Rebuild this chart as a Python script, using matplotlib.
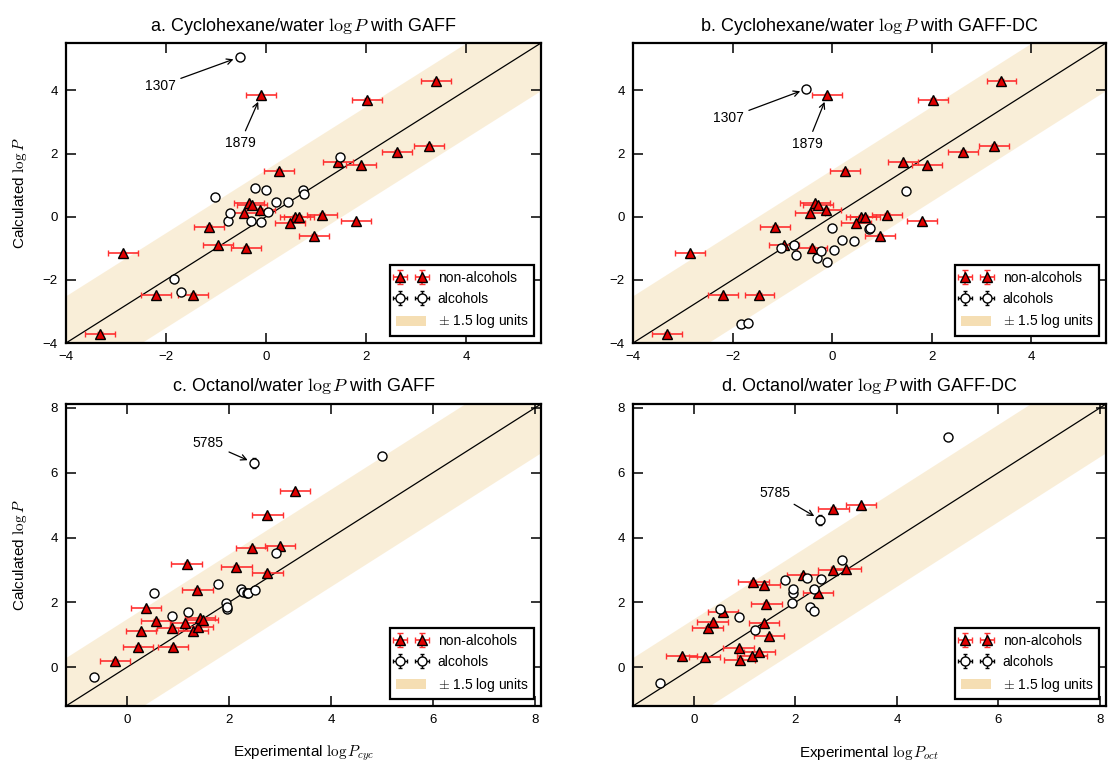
import matplotlib
matplotlib.use("Agg")
import matplotlib.pyplot as plt
import numpy as np
from matplotlib.patches import Rectangle

plt.rcParams['font.family'] = ['Liberation Sans', 'DejaVu Sans']
plt.rcParams['mathtext.fontset'] = 'cm'

# ---------------- Cyclohexane/water data ----------------
nonalc_x_cyc = [-0.10, 0.25, 3.40, 2.02, 2.62, 3.25, 1.90, 1.43, -0.34, -0.29, -0.45, -0.12,
                0.58, 0.66, 0.48, -1.15, -0.96, -0.40, -2.86, -2.20, -1.46, -3.32, 1.11, 1.80, 0.96]
nonalc_y_cyc = [3.84, 1.46, 4.31, 3.70, 2.06, 2.25, 1.63, 1.72, 0.42, 0.38, 0.12, 0.21,
                0.00, 0.00, -0.21, -0.32, -0.90, -0.99, -1.16, -2.49, -2.48, -3.70, 0.06, -0.15, -0.60]
alc_x_cyc = [-1.84, -1.70, -1.03, -0.76, -0.72, -0.52, -0.31, -0.23, -0.11, -0.01, 0.03, 0.20,
             0.43, 0.73, 0.75, 1.48]
alc_y_cyc_gaff = [-1.96, -2.37, 0.63, -0.15, 0.12, 5.06, -0.15, 0.91, -0.18, 0.86, 0.14, 0.46,
                  0.46, 0.86, 0.72, 1.88]
alc_y_cyc_dc = [-3.39, -3.36, -1.00, -0.90, -1.21, 4.05, -1.31, -1.10, -1.43, -0.36, -1.06, -0.74,
                -0.76, -0.39, -0.36, 0.80]

# ---------------- Octanol/water data ----------------
nonalc_x_oct = [-0.24, 0.21, 0.27, 0.37, 0.57, 0.88, 0.90, 1.14, 1.17, 1.29, 1.38, 1.39, 1.43,
                1.48, 2.14, 2.44, 2.75, 2.75, 3.00, 3.29]
nonalc_y_oct_gaff = [0.19, 0.62, 1.10, 1.82, 1.42, 1.22, 0.63, 1.35, 3.18, 1.10, 2.38, 1.25, 1.51,
                     1.46, 3.10, 3.68, 4.69, 2.91, 3.73, 5.42]
nonalc_y_oct_dc = [0.33, 0.30, 1.22, 1.38, 1.69, 0.58, 0.22, 0.33, 2.63, 0.46, 1.35, 2.53, 1.95,
                   0.97, 2.84, 2.28, 4.89, 2.99, 3.02, 4.99]
alc_x_oct = [-0.66, 0.52, 0.88, 1.20, 1.79, 1.94, 1.95, 1.96, 2.23, 2.28, 2.36, 2.37, 2.49, 2.51,
             2.92, 5.00]
alc_y_oct_gaff = [-0.29, 2.28, 1.59, 1.70, 2.58, 1.99, 1.79, 1.85, 2.41, 2.33, 2.28, 2.30, 6.30,
                  2.38, 3.53, 6.51]
alc_y_oct_dc = [-0.49, 1.79, 1.54, 1.15, 2.69, 1.97, 2.28, 2.41, 2.74, 1.85, 2.41, 1.74, 4.55,
                2.72, 3.30, 7.09]

# uncertainties
nonalc_xerr = 0.3
nonalc_yerr = 0.05
alc_xerr = 0.03
alc_yerr_oct = [0.05] * 12 + [0.15] + [0.05] * 3

band = 1.5

titles = ["a. Cyclohexane/water $\\log P$ with GAFF",
          "b. Cyclohexane/water $\\log P$ with GAFF-DC",
          "c. Octanol/water $\\log P$ with GAFF",
          "d. Octanol/water $\\log P$ with GAFF-DC"]

W, H = 1108, 761
fig = plt.figure(figsize=(W / 100, H / 100), dpi=100)

def ax_at(l, t, r, b):
    return fig.add_axes([l / W, 1 - b / H, (r - l) / W, (b - t) / H])

axes = [ax_at(66, 43, 541, 343), ax_at(633, 43, 1106, 343),
        ax_at(66, 404, 541, 706), ax_at(633, 404, 1106, 706)]

panels = [
    (nonalc_x_cyc, nonalc_y_cyc, alc_x_cyc, alc_y_cyc_gaff, 0.05, (-4, 5.5), [-4, -2, 0, 2, 4]),
    (nonalc_x_cyc, nonalc_y_cyc, alc_x_cyc, alc_y_cyc_dc, 0.05, (-4, 5.5), [-4, -2, 0, 2, 4]),
    (nonalc_x_oct, nonalc_y_oct_gaff, alc_x_oct, alc_y_oct_gaff, alc_yerr_oct, (-1.2, 8.12), [0, 2, 4, 6, 8]),
    (nonalc_x_oct, nonalc_y_oct_dc, alc_x_oct, alc_y_oct_dc, alc_yerr_oct, (-1.2, 8.12), [0, 2, 4, 6, 8]),
]

annots = [
    [("1307", (-0.52, 5.06), (-2.12, 4.14)), ("1879", (-0.10, 3.84), (-0.52, 2.33))],
    [("1307", (-0.51, 4.05), (-2.09, 3.12)), ("1879", (-0.10, 3.84), (-0.49, 2.31))],
    [("5785", (2.49, 6.30), (1.59, 6.92))],
    [("5785", (2.49, 4.55), (1.60, 5.37))],
]

for i, ax in enumerate(axes):
    nx, ny, axx, ay, ayerr, lim, ticks = panels[i]
    xs = np.array(lim)
    ax.fill_between(xs, xs - band, xs + band, color='wheat', alpha=0.5, lw=0, zorder=0)
    ax.plot(xs, xs, color='black', lw=0.9, zorder=1)
    ax.errorbar(nx, ny, xerr=nonalc_xerr, yerr=nonalc_yerr, fmt='^', ms=7.5,
                mfc='#e00000', mec='black', mew=1.0, ecolor='#ff3030', elinewidth=1.2,
                capsize=2, capthick=1.0, label='non-alcohols', zorder=3)
    ax.errorbar(axx, ay, xerr=alc_xerr, yerr=ayerr, fmt='o', ms=6.5,
                mfc='white', mec='black', mew=1.0, ecolor='black', elinewidth=1.0,
                capsize=1.5, capthick=1.0, label='alcohols', zorder=4)
    for txt, xy, xyt in annots[i]:
        ax.annotate(txt, xy=xy, xytext=xyt, ha='center', va='center', fontsize=10,
                    arrowprops=dict(arrowstyle='->', color='black', lw=0.9,
                                    shrinkA=2, shrinkB=5))
    ax.set_xlim(lim)
    ax.set_ylim(lim)
    ax.set_xticks(ticks)
    ax.set_yticks(ticks)
    ax.tick_params(direction='in', length=7, width=1.1, top=True, right=True,
                   labelsize=9.5, pad=6)
    for s in ax.spines.values():
        s.set_linewidth(1.6)
    ax.set_title(titles[i], fontsize=13, pad=9)
    handles, labels = ax.get_legend_handles_labels()
    handles.append(Rectangle((0, 0), 1, 1, fc='wheat', ec='none'))
    labels.append('$\\pm$ 1.5 log units')
    leg = ax.legend(handles, labels, loc='lower right', numpoints=2, fontsize=10,
                    fancybox=False, framealpha=1, edgecolor='black',
                    borderaxespad=0.5, handlelength=2.2)
    leg.get_frame().set_linewidth(1.6)

for ax in (axes[0], axes[2]):
    ax.set_ylabel("Calculated $\\log P$", fontsize=11)
    ax.yaxis.set_label_coords(-0.078, 0.5)
axes[2].set_xlabel("Experimental $\\log P_{cyc}$", fontsize=11)
axes[3].set_xlabel("Experimental $\\log P_{oct}$", fontsize=11)
for ax in (axes[2], axes[3]):
    ax.xaxis.set_label_coords(0.5, -0.125)

fig.savefig("out.png", dpi=100)
